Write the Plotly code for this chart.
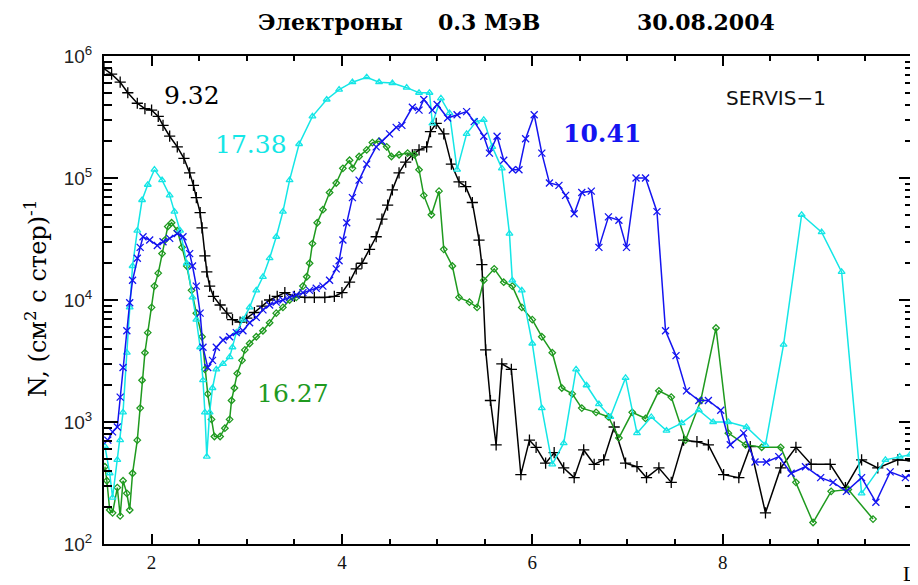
import plotly.graph_objects as go

# ---- data (L, N) ----
black_L = [1.50,1.58,1.67,1.75,1.85,1.93,2.00,2.07,2.12,2.19,2.27,2.34,2.40,2.44,2.47,2.51,2.53,2.56,2.58,2.61,
           2.65,2.72,2.79,2.85,2.93,3.00,3.08,3.16,3.24,3.32,3.40,3.50,3.61,3.71,3.82,3.92,4.00,4.08,4.15,4.21,
           4.29,4.36,4.42,4.48,4.53,4.60,4.67,4.74,4.81,4.89,4.93,4.99,5.07,5.15,5.23,5.30,5.37,5.44,5.47,5.51,
           5.56,5.62,5.68,5.78,5.88,5.97,6.04,6.14,6.23,6.33,6.44,6.54,6.65,6.75,6.86,6.98,7.10,7.20,7.33,7.46,
           7.59,7.73,7.85,8.01,8.17,8.29,8.45,8.61,8.77,8.93,9.13,9.29,9.46,9.63,9.84,10.0]
black_N = [7.9e5,7.1e5,6.1e5,5.0e5,4.1e5,3.7e5,3.6e5,3.2e5,2.7e5,2.2e5,1.8e5,1.45e5,1.1e5,8.7e4,6.9e4,5.2e4,3.9e4,2.3e4,1.7e4,1.3e4,
           1.07e4,9.1e3,7.8e3,6.9e3,6.6e3,7.1e3,7.9e3,8.9e3,1.0e4,1.07e4,1.15e4,1.07e4,1.05e4,1.05e4,1.05e4,1.07e4,1.15e4,1.4e4,1.8e4,2.0e4,
           2.6e4,3.3e4,4.6e4,6.0e4,8.0e4,1.1e5,1.35e5,1.55e5,1.7e5,1.8e5,2.4e5,2.8e5,2.3e5,1.3e5,9.3e4,8.5e4,6.3e4,3.1e4,1.95e4,3.9e3,
           1.5e3,6.5e2,3.0e3,2.7e3,3.7e2,7.1e2,6.2e2,4.6e2,5.6e2,4.2e2,3.5e2,5.9e2,4.5e2,4.9e2,9.1e2,4.6e2,4.3e2,3.5e2,4.2e2,3.2e2,
           7.1e2,6.9e2,6.5e2,3.7e2,3.5e2,6.3e2,1.8e2,4.2e2,6.2e2,4.5e2,4.5e2,2.9e2,4.9e2,4.2e2,4.9e2,4.8e2]

cyan_L = [1.51,1.56,1.59,1.64,1.67,1.70,1.74,1.77,1.80,1.85,1.90,1.96,2.03,2.11,2.19,2.24,2.30,2.37,2.43,2.47,
          2.51,2.54,2.56,2.58,2.61,2.64,2.68,2.75,2.82,2.85,2.89,2.96,3.03,3.10,3.17,3.24,3.31,3.38,3.45,3.55,
          3.69,3.84,3.97,4.11,4.26,4.39,4.53,4.68,4.81,4.92,4.95,5.04,5.13,5.21,5.31,5.41,5.49,5.58,5.68,5.76,
          5.79,5.89,6.00,6.10,6.21,6.33,6.46,6.57,6.70,6.82,6.98,7.10,7.25,7.41,7.57,7.75,7.90,8.06,8.25,8.45,
          8.64,8.83,9.04,9.25,9.46,9.71,9.86,9.97]
cyan_N = [6.3e2,3.8e2,2.4e2,4.9e2,7.1e2,1.2e3,3.7e3,8.7e3,1.9e4,3.7e4,6.6e4,8.8e4,1.17e5,9.6e4,7.2e4,5.3e4,3.7e4,2.0e4,1.05e4,6.9e3,
          4.1e3,2.2e3,1.2e3,5.2e2,1.2e3,1.9e3,2.7e3,3.0e3,3.4e3,4.1e3,5.4e3,6.9e3,8.7e3,1.2e4,1.55e4,2.2e4,3.3e4,5.3e4,9.6e4,1.9e5,
          3.2e5,4.4e5,5.3e5,6.1e5,6.7e5,6.1e5,6.0e5,5.5e5,5.0e5,5.0e5,2.8e5,4.5e5,3.4e5,1.17e5,2.3e5,2.9e5,3.0e5,1.8e5,1.2e5,3.5e4,
          1.45e4,1.2e4,4.4e3,1.3e3,4.5e2,6.7e2,2.7e3,2.0e3,1.4e3,1.1e3,2.3e3,8.1e2,1.1e3,8.5e2,9.8e2,1.25e3,1.0e3,1.0e3,9.1e2,6.5e2,
          4.3e3,5.0e4,3.6e4,1.7e4,2.6e2,4.9e2,5.2e2,5.4e2]

blue_L = [1.54,1.59,1.64,1.67,1.70,1.74,1.77,1.80,1.85,1.88,1.91,1.98,2.06,2.12,2.19,2.27,2.33,2.40,2.43,2.47,
          2.51,2.54,2.59,2.64,2.68,2.75,2.82,2.89,2.96,3.03,3.10,3.17,3.24,3.31,3.38,3.45,3.52,3.59,3.66,3.73,
          3.80,3.87,3.94,3.97,4.01,4.05,4.11,4.18,4.26,4.36,4.42,4.50,4.57,4.63,4.74,4.81,4.86,4.95,5.00,5.11,
          5.21,5.31,5.39,5.49,5.55,5.63,5.70,5.79,5.86,5.93,6.02,6.10,6.18,6.28,6.35,6.44,6.52,6.62,6.70,6.80,
          6.91,6.99,7.09,7.19,7.31,7.40,7.51,7.62,7.75,7.85,7.98,8.08,8.22,8.34,8.46,8.59,8.72,8.87,9.03,9.16,
          9.30,9.46,9.61,9.76,9.92,10.0]
blue_N = [7.1e2,8.3e2,9.1e2,1.6e3,2.8e3,5.6e3,9.5e3,1.45e4,2.2e4,2.7e4,3.3e4,3.1e4,2.8e4,3.0e4,3.2e4,3.5e4,3.3e4,2.4e4,1.9e4,1.3e4,
          7.8e3,4.1e3,2.8e3,3.2e3,4.1e3,4.7e3,5.0e3,5.4e3,5.6e3,6.5e3,7.2e3,8.3e3,9.1e3,9.6e3,1.0e4,1.05e4,1.1e4,1.15e4,1.2e4,1.25e4,
          1.3e4,1.45e4,1.8e4,2.1e4,3.1e4,4.3e4,6.9e4,9.6e4,1.3e5,1.8e5,2.0e5,2.3e5,2.6e5,2.7e5,3.8e5,3.6e5,4.4e5,3.6e5,4.0e5,3.1e5,
          3.3e5,3.5e5,2.9e5,2.2e5,1.6e5,2.2e5,1.4e5,1.17e5,1.17e5,2.1e5,3.3e5,1.6e5,9.1e4,8.7e4,7.2e4,5.1e4,7.6e4,7.8e4,2.7e4,4.8e4,
          4.5e4,2.7e4,1.0e5,1.0e5,5.3e4,5.6e3,3.5e3,1.8e3,1.5e3,1.5e3,1.25e3,6.5e2,8.1e2,4.7e2,4.7e2,5.2e2,3.8e2,4.3e2,3.5e2,3.2e2,
          2.7e2,3.5e2,2.2e2,3.9e2,3.5e2,3.8e2]

green_L = [1.51,1.53,1.56,1.59,1.64,1.67,1.70,1.74,1.77,1.80,1.85,1.88,1.90,1.93,1.96,2.00,2.03,2.07,2.11,2.14,
           2.17,2.21,2.27,2.32,2.37,2.42,2.47,2.53,2.56,2.59,2.63,2.66,2.72,2.77,2.82,2.84,2.87,2.90,2.95,2.98,
           3.03,3.10,3.17,3.24,3.31,3.38,3.45,3.52,3.59,3.63,3.66,3.69,3.74,3.80,3.87,3.94,4.01,4.08,4.11,4.18,
           4.26,4.32,4.39,4.47,4.52,4.60,4.69,4.76,4.81,4.86,4.94,5.02,5.07,5.16,5.23,5.34,5.42,5.49,5.60,5.70,
           5.79,5.89,6.00,6.10,6.21,6.31,6.42,6.52,6.67,6.80,6.91,7.05,7.19,7.33,7.46,7.61,7.77,7.93,8.06,8.24,
           8.41,8.61,8.77,8.95,9.14,9.32,9.58]
green_N = [4.3e2,3.3e2,1.9e2,1.8e2,2.9e2,1.7e2,3.3e2,2.6e2,1.9e2,3.8e2,7.1e2,1.3e3,2.2e3,3.7e3,5.4e3,8.7e3,1.3e4,1.66e4,2.4e4,3.1e4,
           4.0e4,4.3e4,3.7e4,2.7e4,1.9e4,1.2e4,7.8e3,5.0e3,2.7e3,1.7e3,1.05e3,7.6e2,7.6e2,8.9e2,1.05e3,1.5e3,1.9e3,2.5e3,3.2e3,3.9e3,
           4.4e3,5.0e3,5.6e3,6.5e3,7.8e3,8.7e3,1.0e4,1.05e4,1.3e4,1.55e4,2.0e4,2.9e4,4.3e4,5.5e4,7.6e4,9.1e4,1.2e5,1.4e5,1.2e5,1.5e5,
           1.7e5,1.95e5,2.0e5,1.8e5,1.5e5,1.55e5,1.6e5,1.55e5,1.17e5,7.2e4,5.0e4,7.8e4,2.6e4,1.9e4,1.05e4,9.6e3,8.7e3,1.45e4,1.8e4,1.4e4,
           1.3e4,8.7e3,6.9e3,5.0e3,3.7e3,1.9e3,1.7e3,1.3e3,1.2e3,1.1e3,7.4e2,1.2e3,1.07e3,1.8e3,1.6e3,7.1e2,1.5e3,5.9e3,8.1e2,6.5e2,
           6.2e2,6.2e2,3.2e2,1.5e2,2.7e2,2.8e2,1.6e2]

series_names = ["9.32", "16.27", "17.38", "10.41"]
x_ticks = [2, 4, 6, 8]
x_minor = [2.5, 3, 3.5, 4.5, 5, 5.5, 6.5, 7, 7.5, 8.5, 9, 9.5]
y_ticks = [1e2, 1e3, 1e4, 1e5, 1e6]
y_ticktext = ["10<sup>2</sup>", "10<sup>3</sup>", "10<sup>4</sup>", "10<sup>5</sup>", "10<sup>6</sup>"]
y_minor = [m * 10 ** e for e in range(2, 6) for m in range(2, 10)]

BLACK = "#000000"
GREEN = "#1f9a1f"
CYAN = "#14e6e6"
BLUE = "#1414f0"

traces = [
    (black_L, black_N, BLACK, "cross-thin-open", 8, series_names[0]),
    (green_L, green_N, GREEN, "diamond-open", 5, series_names[1]),
    (cyan_L, cyan_N, CYAN, "triangle-up-open", 6, series_names[2]),
    (blue_L, blue_N, BLUE, "x-thin-open", 7, series_names[3]),
]

fig = go.Figure()
for L, N, col, sym, sz, name in traces:
    fig.add_trace(go.Scatter(
        x=L, y=N, mode="lines+markers", name=name,
        line=dict(color=col, width=1.5),
        marker=dict(symbol=sym, size=sz, color=col, line=dict(color=col, width=1.3)),
        showlegend=False,
    ))

axis_common = dict(
    showline=True, linecolor="black", linewidth=2, mirror="allticks",
    ticks="inside", tickcolor="black", tickwidth=1.5,
    showgrid=False, zeroline=False,
)

fig.update_xaxes(
    range=[1.5, 10], tickmode="array", tickvals=x_ticks, ticklen=10,
    tickfont=dict(family="Liberation Serif", size=19, color="#111"),
    minor=dict(tickmode="array", tickvals=x_minor, ticks="inside", ticklen=5,
               tickwidth=1.5, tickcolor="black", showgrid=False),
    **axis_common,
)
fig.update_yaxes(
    type="log", range=[2, 6], tickmode="array", tickvals=y_ticks, ticktext=y_ticktext,
    ticklen=14, ticklabelstandoff=6,
    tickfont=dict(family="Liberation Sans", size=19, color="#222"),
    minor=dict(tickmode="array", tickvals=y_minor, ticks="inside", ticklen=8,
               tickwidth=1.5, tickcolor="black", showgrid=False),
    **axis_common,
)

# page has an 8px body margin; the figure is sized so the plot area lands at
# x 104..915, y 56..544 of the 918x585 window
OFF = 8
W, H = 910, 577
ml, mr, mt, mb = 96, 3, 48, 41


def px2paper(px, py):
    fx, fy = px - OFF, py - OFF
    return (fx - ml) / (W - ml - mr), (H - mb - fy) / (H - mt - mb)


def add_text(text, px, py, size, color="black", family="DejaVu Serif", bold=False, angle=0):
    x, y = px2paper(px, py)
    fig.add_annotation(
        text=f"<b>{text}</b>" if bold else text, x=x, y=y, xref="paper", yref="paper",
        xanchor="center", yanchor="middle", showarrow=False, textangle=angle,
        font=dict(family=family, size=size, color=color),
    )


add_text("Электроны", 331, 22, 22, bold=True)
add_text("0.3 МэВ", 490, 22, 22, bold=True)
add_text("30.08.2004", 707, 22, 22, bold=True)
add_text("9.32", 192, 95, 25, BLACK)
add_text("17.38", 251, 145, 25, CYAN)
add_text("10.41", 603, 133, 25, BLUE, bold=True)
add_text("16.27", 293, 393, 25, GREEN)
add_text("SERVIS−1", 778, 98, 20, "#111", family="DejaVu Sans")
add_text("N, (см<sup>2</sup> с стер)<sup>-1</sup>", 36, 298, 24, family="DejaVu Serif", angle=-90)
add_text("L", 911, 574, 21, family="Liberation Serif")

fig.update_layout(
    width=W, height=H,
    margin=dict(l=ml, r=mr, t=mt, b=mb),
    paper_bgcolor="white", plot_bgcolor="white",
)

fig.write_html("out.html")
